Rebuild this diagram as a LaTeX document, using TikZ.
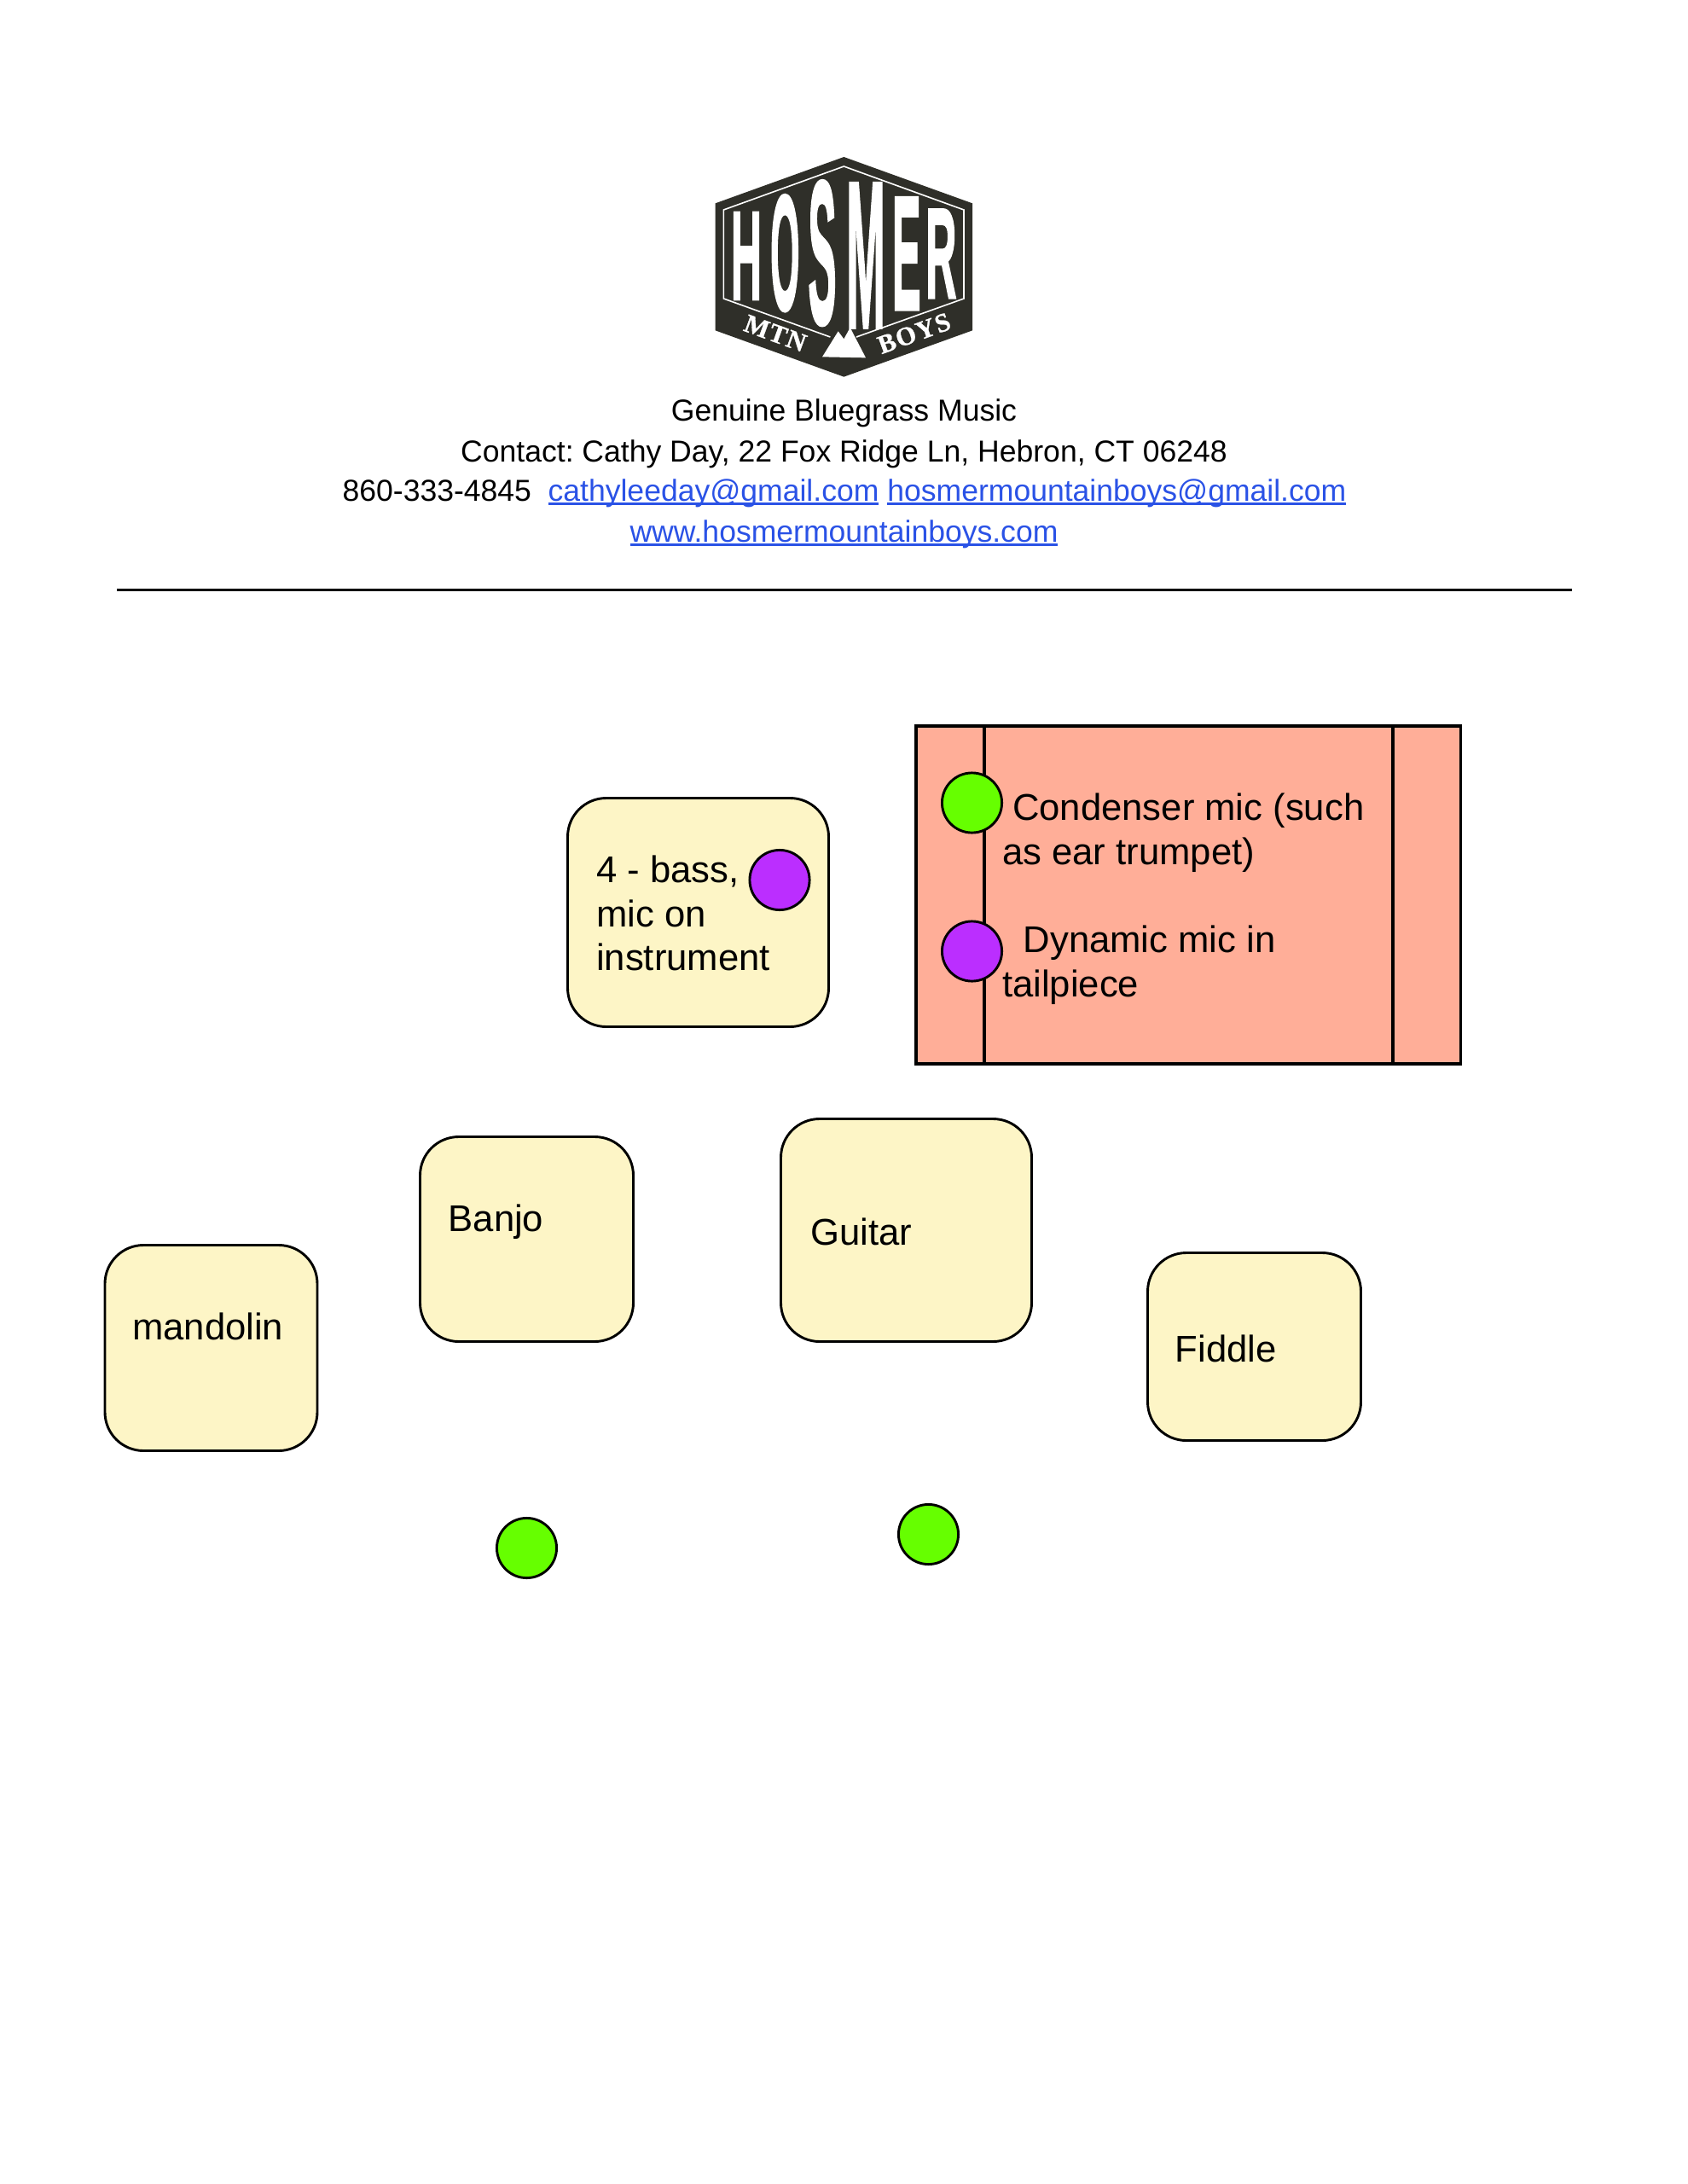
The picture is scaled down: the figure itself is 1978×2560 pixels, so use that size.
\documentclass[tikz,border=0pt]{standalone}
\usepackage{fontspec}
\usepackage{graphicx}
\setmainfont{Liberation Sans}
\newfontfamily\logofont[FakeBold=2]{Liberation Sans Bold}
\newfontfamily\slabfont[LetterSpace=5,FakeBold=1]{Liberation Serif Bold}
\definecolor{logodark}{HTML}{2F2F29}
\definecolor{linkblue}{HTML}{2A52E6}
\definecolor{playerfill}{HTML}{FDF5C6}
\definecolor{legendfill}{HTML}{FFAE98}
\definecolor{micgreen}{HTML}{66FF00}
\definecolor{micpurple}{HTML}{BB2EFF}
\frenchspacing
\newcommand{\linkul}[1]{\setbox0\hbox{\textcolor{linkblue}{#1}}\textcolor{linkblue}{\rlap{\rule[-1.5pt]{\wd0}{.8pt}}}\box0\relax}
\newcommand{\logolet}[3]{\resizebox{#1pt}{#2pt}{\logofont #3}}
\tikzset{
 header/.style={inner sep=0,font=\fontsize{11}{14}\selectfont},
 player/.style 2 args={draw=black,line width=.9pt,fill=playerfill,rounded corners=14pt,
  minimum width=#1*.30938pt,minimum height=#2*.30938pt,inner sep=0},
 mic/.style={circle,draw=black,line width=.9pt,minimum size=21.7pt,inner sep=0},
 tag/.style={anchor=west,inner sep=0,align=left,font=\fontsize{13.5}{16}\selectfont},
 logoletter/.style={text=white,inner sep=0},
 slab/.style={text=white,inner sep=0,font=\slabfont\fontsize{9.5}{12}\selectfont},
}
\begin{document}
\begin{tikzpicture}[x=.30938pt,y=-.30938pt]
 \useasboundingbox (0,0) rectangle (1978,2560);
 \begin{scope}[shift={(800,160)},x=.10313pt,y=-.10313pt]
 \fill[logodark] (568,72)--(1020,235)--(1020,682)--(568,845)--(116,682)--(116,235)--cycle;
 \draw[white,line width=.5pt] (520,705)--(145,570)--(145,258)--(568,105)--(990,258)--(990,570)--(612,705);
 \fill[white] (492,775)--(548,685)--(568,712)--(590,672)--(645,778)--cycle;
 \path
 (225,420) node[logoletter] (letterH) {\logolet{11.2}{31.5}{H}}
 (361,410) node[logoletter] (letterO) {\logolet{10.6}{41.5}{O}}
 (492,410) node[logoletter] (letterS) {\logolet{10.2}{51.5}{S}}
 (645,418) node[logoletter] (letterM) {\logolet{14}{52}{M}}
 (788,412) node[logoletter] (letterE) {\logolet{10.4}{40.5}{E}}
 (910,412) node[logoletter] (letterR) {\logolet{11.2}{32}{R}}
 (327,692) node[slab,rotate=-20] (mtn) {MTN}
 (815,692) node[slab,rotate=20] (boys) {BOYS};
 \end{scope}
 \path
 (989.5,484) node[header] (motto) {Genuine Bluegrass Music} % <<< header
 (989.5,532) node[header] (contact) {Contact: Cathy Day, 22 Fox Ridge Ln, Hebron, CT 06248}
 (990,578) node[header] (mails) {860-333-4845\hspace{3pt} \linkul{cathyleeday@gmail.com} \linkul{hosmermountainboys@gmail.com}}
 (989.5,626) node[header] (site) {\linkul{www.hosmermountainboys.com}};
 \coordinate (ruleL) at (137,691.5);
 \coordinate (ruleR) at (1843,691.5);
 \draw[line width=.9pt] (ruleL)--(ruleR);
 % legend
 \draw[line width=1pt,fill=legendfill] (1074,851) rectangle (1712.5,1247);
 \draw[line width=1pt] (1154,851)--(1154,1247) (1633,851)--(1633,1247);
 \path
 (1174.5,976.5) node[tag] (micA) {\hspace*{3.7pt}Condenser mic (such\\as ear trumpet)}
 (1174.5,1131.5) node[tag] (micB) {\hspace*{7.6pt}Dynamic mic in\\tailpiece}
 (1139.5,941) node[mic,fill=micgreen] (legendGreen) {}
 (1139.5,1115) node[mic,fill=micpurple] (legendPurple) {};
 % players
 \path
 (818.5,1069.5) node[player={306}{268}] (bass) {}
 (617.5,1452.5) node[player={250}{240}] (banjo) {}
 (1062.5,1442) node[player={294}{261}] (guitar) {}
 (247.5,1580) node[player={249}{241}] (mandolin) {}
 (1470.5,1578.5) node[player={250}{220}] (fiddle) {}
 (698.5,1070.5) node[tag] (bassTag) {4 - bass,\\mic on\\instrument}
 (525,1432.5) node[tag] (banjoTag) {Banjo}
 (950,1443.5) node[tag] (guitarTag) {Guitar}
 (154.5,1554.5) node[tag] (mandolinTag) {mandolin}
 (1377,1580.5) node[tag] (fiddleTag) {Fiddle}
 (914,1031.5) node[mic,fill=micpurple] (bassMic) {}
 (617.5,1814.5) node[mic,fill=micgreen] (leftMic) {}
 (1088.5,1798.5) node[mic,fill=micgreen] (rightMic) {};
\end{tikzpicture}
\end{document}
